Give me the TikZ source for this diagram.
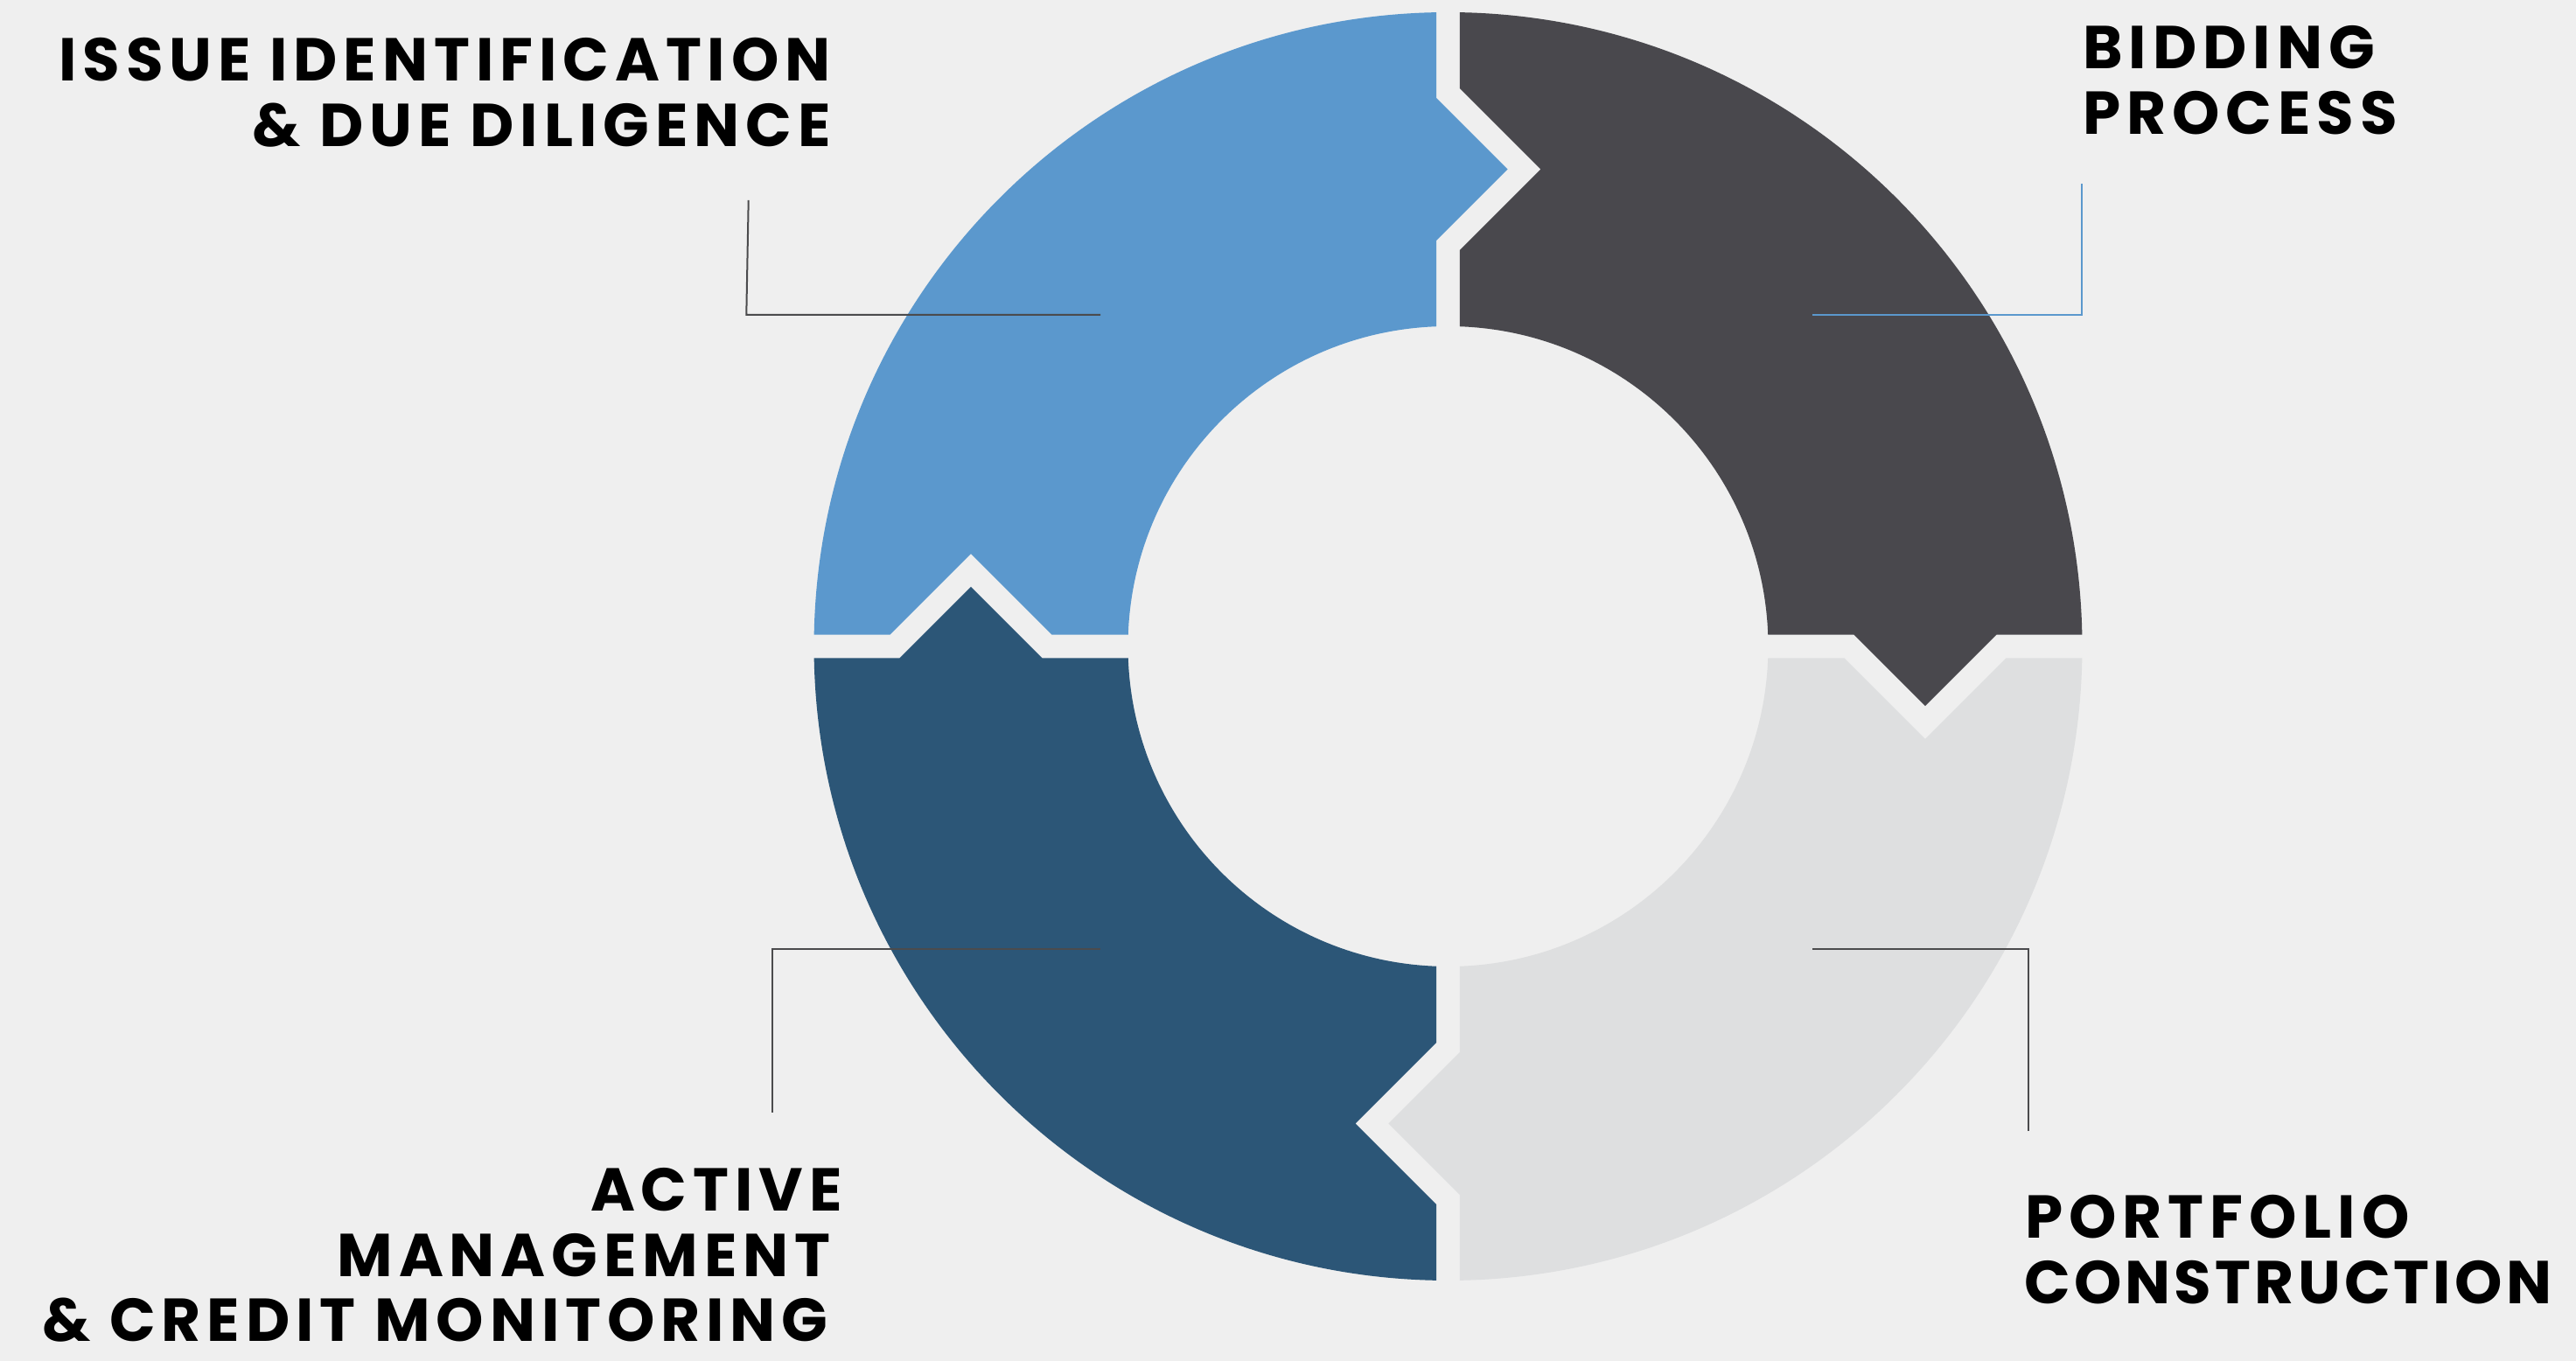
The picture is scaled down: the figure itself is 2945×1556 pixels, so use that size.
\documentclass[tikz,border=0pt]{standalone}
\usepackage{fontspec}
\newfontfamily\lblfont{Poppins}[LetterSpace=10]
\definecolor{bg}{HTML}{EFEFEF}
\definecolor{segblue}{HTML}{5B98CD}
\definecolor{segdark}{HTML}{49484D}
\definecolor{seglight}{HTML}{DEDFE0}
\definecolor{segnavy}{HTML}{2C5677}
\definecolor{leadgray}{HTML}{4B4B4D}
\definecolor{leadblue}{HTML}{5B98CD}
\newcommand\ringseg[2]{%
  \fill[#1, rotate=#2] (178.9488:725) arc[start angle=178.9488, end angle=91.0512, radius=362.5pt]
    -- (-13.3,626.99) -- (68.19,545.5) -- (-13.3,464.01)
    -- (92.0826:366) arc[start angle=92.0826, end angle=177.9174, radius=183pt]
    -- (-452.99,13.3) -- (-545.5,105.81) -- (-638.01,13.3) -- cycle;}
\begin{document}
\begin{tikzpicture}[x=0.5pt,y=0.5pt,
  lbl/.style={inner sep=0pt, text depth=0pt, font=\lblfont\bfseries\fontsize{34.6}{37.5}\selectfont, text=black},
  leader/.style={line width=1pt, draw=leadgray}]
\fill[bg] (0,0) rectangle (2945,1556);
\useasboundingbox (0,0) rectangle (2945,1556);
\begin{scope}[shift={(1655.5,817)}]
  \ringseg{segblue}{0}
  \ringseg{segdark}{-90}
  \ringseg{seglight}{-180}
  \ringseg{segnavy}{-270}
\end{scope}
% labels
\node[lbl, anchor=base east] (issue1) at (950,1463.3) {ISSUE IDENTIFICATION};
\node[lbl, anchor=base east] (issue2) at (950,1388.3) {\& DUE DILIGENCE};
\node[lbl, anchor=base west] (bid1) at (2381,1477) {BIDDING};
\node[lbl, anchor=base west] (bid2) at (2381,1402) {PROCESS};
\node[lbl, anchor=base east] (act1) at (963,171) {ACTIVE};
\node[lbl, anchor=base east] (act2) at (950,96) {MANAGEMENT};
\node[lbl, anchor=base east] (act3) at (947,22) {\& CREDIT MONITORING};
\node[lbl, anchor=base west] (port1) at (2315,140.3) {PORTFOLIO};
\node[lbl, anchor=base west] (port2) at (2314,65) {\addfontfeature{LetterSpace=6}CONSTRUCTION};
% leader coordinates
\coordinate (tlA) at (855.7,1327);
\coordinate (tlB) at (853.3,1196);
\coordinate (tlC) at (1258,1196);
\coordinate (trA) at (2380.3,1346);
\coordinate (trB) at (2380.3,1195.7);
\coordinate (trC) at (2072,1195.7);
\coordinate (blA) at (883.3,284);
\coordinate (blB) at (883.3,471);
\coordinate (blC) at (1258,471);
\coordinate (brA) at (2319.3,262.7);
\coordinate (brB) at (2319.3,471);
\coordinate (brC) at (2072,471);
\draw[leader] (tlA) -- (tlB) -- (tlC);
\draw[leader, draw=leadblue] (trA) -- (trB) -- (trC);
\draw[leader] (blA) -- (blB) -- (blC);
\draw[leader] (brA) -- (brB) -- (brC);
\end{tikzpicture}
\end{document}
